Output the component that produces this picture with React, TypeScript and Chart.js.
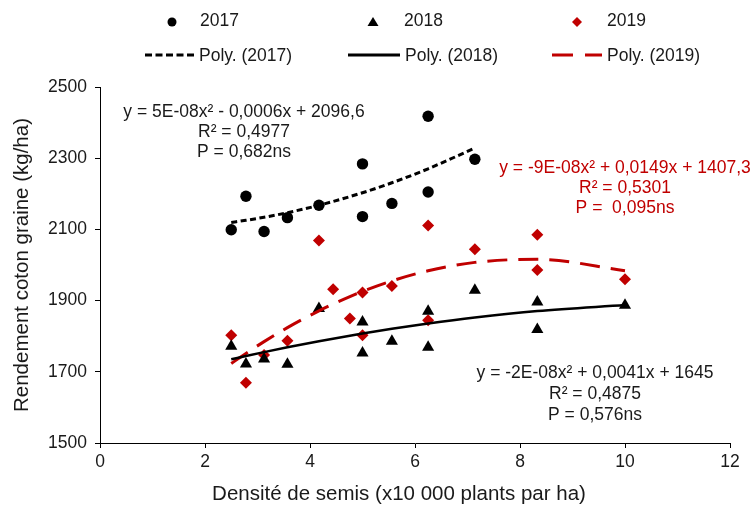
import { useEffect, useRef } from 'react';
import { Chart, registerables } from 'chart.js';

Chart.register(...registerables);

// Sowing density (x10 000 plants/ha) and seed-cotton yield (kg/ha) per season
const density2017 = [2.5, 2.78, 3.125, 3.57, 4.17, 5.0, 5.0, 5.56, 6.25, 6.25, 7.14];
const yield2017 = [2099, 2193, 2094, 2133, 2168, 2284, 2136, 2173, 2418, 2205, 2297];

const density2018 = [2.5, 2.78, 3.125, 3.57, 4.17, 5.0, 5.0, 5.56, 6.25, 6.25, 7.14, 8.33, 8.33, 10];
const yield2018 = [1772, 1722, 1736, 1721, 1878, 1840, 1753, 1786, 1870, 1769, 1929, 1896, 1819, 1887];

const density2019 = [2.5, 2.78, 3.125, 3.57, 4.17, 4.44, 4.76, 5.0, 5.0, 5.56, 6.25, 6.25, 7.14, 8.33, 8.33, 10];
const yield2019 = [1803, 1669, 1747, 1787, 2069, 1932, 1850, 1923, 1803, 1941, 2111, 1845, 2044, 2085, 1986, 1960];

const seriesLabels = ['2017', '2018', '2019'];
const trendLabels = ['Poly. (2017)', 'Poly. (2018)', 'Poly. (2019)'];

const equation2017 = ['y = 5E-08x² - 0,0006x + 2096,6', 'R² = 0,4977', 'P = 0,682ns'];
const equation2018 = ['y = -2E-08x² + 0,0041x + 1645', 'R² = 0,4875', 'P = 0,576ns'];
const equation2019 = ['y = -9E-08x² + 0,0149x + 1407,3', 'R² = 0,5301', 'P =  0,095ns'];

const xTitle = 'Densité de semis (x10 000 plants par ha)';
const yTitle = 'Rendement coton graine (kg/ha)';

const RED = '#C00000';
const INK = '#1a1a1a';
const FONT = '"Liberation Sans", Arial, sans-serif';

// Least-squares second-order polynomial (same as a spreadsheet "Poly." trendline)
function fitQuadratic(xs: number[], ys: number[]) {
  let n = xs.length, s1 = 0, s2 = 0, s3 = 0, s4 = 0, t0 = 0, t1 = 0, t2 = 0;
  for (let i = 0; i < n; i++) {
    const x = xs[i], y = ys[i];
    s1 += x; s2 += x * x; s3 += x * x * x; s4 += x * x * x * x;
    t0 += y; t1 += x * y; t2 += x * x * y;
  }
  const det = (m: number[][]) =>
    m[0][0] * (m[1][1] * m[2][2] - m[1][2] * m[2][1]) -
    m[0][1] * (m[1][0] * m[2][2] - m[1][2] * m[2][0]) +
    m[0][2] * (m[1][0] * m[2][1] - m[1][1] * m[2][0]);
  const M = [[n, s1, s2], [s1, s2, s3], [s2, s3, s4]];
  const D = det(M);
  const a = det([[t0, s1, s2], [t1, s2, s3], [t2, s3, s4]]) / D;
  const b = det([[n, t0, s2], [s1, t1, s3], [s2, t2, s4]]) / D;
  const c = det([[n, s1, t0], [s1, s2, t1], [s2, s3, t2]]) / D;
  return (x: number) => a + b * x + c * x * x;
}

function trendPoints(xs: number[], ys: number[]) {
  const f = fitQuadratic(xs, ys);
  const uniq = Array.from(new Set(xs)).sort((p, q) => p - q);
  return uniq.map((x) => ({ x, y: f(x) }));
}

const toPoints = (xs: number[], ys: number[]) => xs.map((x, i) => ({ x, y: ys[i] }));

function drawMarker(ctx: CanvasRenderingContext2D, kind: string, x: number, y: number, color: string) {
  ctx.save();
  ctx.fillStyle = color;
  ctx.beginPath();
  if (kind === 'circle') {
    ctx.arc(x, y, 4.5, 0, Math.PI * 2);
  } else if (kind === 'triangle') {
    ctx.moveTo(x, y - 5);
    ctx.lineTo(x + 5.5, y + 4);
    ctx.lineTo(x - 5.5, y + 4);
    ctx.closePath();
  } else {
    ctx.moveTo(x, y - 5);
    ctx.lineTo(x + 5, y);
    ctx.lineTo(x, y + 5);
    ctx.lineTo(x - 5, y);
    ctx.closePath();
  }
  ctx.fill();
  ctx.restore();
}

const overlayPlugin = {
  id: 'overlay',
  afterDraw(chart: Chart) {
    const ctx = chart.ctx;
    ctx.save();
    ctx.font = `17.5px ${FONT}`;
    ctx.textBaseline = 'middle';
    ctx.textAlign = 'left';

    // legend, first row: markers
    const markerRow = [
      { kind: 'circle', mx: 172, tx: 200, color: '#000' },
      { kind: 'triangle', mx: 373, tx: 404, color: '#000' },
      { kind: 'diamond', mx: 577, tx: 607, color: RED },
    ];
    markerRow.forEach((m, i) => {
      drawMarker(ctx, m.kind, m.mx, 22, m.color);
      ctx.fillStyle = INK;
      ctx.fillText(seriesLabels[i], m.tx, 21);
    });

    // legend, second row: trend line samples
    const lineRow = [
      { x0: 145, x1: 197, tx: 199, color: '#000', dash: [7, 3.5] },
      { x0: 348, x1: 400, tx: 405, color: '#000', dash: [] as number[] },
      { x0: 552, x1: 602, tx: 607, color: RED, dash: [21, 12] },
    ];
    lineRow.forEach((l, i) => {
      ctx.save();
      ctx.strokeStyle = l.color;
      ctx.lineWidth = 3;
      ctx.setLineDash(l.dash);
      ctx.beginPath();
      ctx.moveTo(l.x0, 55);
      ctx.lineTo(l.x1, 55);
      ctx.stroke();
      ctx.restore();
      ctx.fillStyle = INK;
      ctx.fillText(trendLabels[i], l.tx, 56);
    });

    // trendline equations
    ctx.textAlign = 'center';
    const blocks = [
      { lines: equation2017, cx: 244, ys: [112, 132, 152], color: INK },
      { lines: equation2019, cx: 625, ys: [168, 188, 208], color: RED },
      { lines: equation2018, cx: 595, ys: [373, 394, 415], color: INK },
    ];
    blocks.forEach((b) => {
      ctx.fillStyle = b.color;
      b.lines.forEach((t, i) => ctx.fillText(t, b.cx, b.ys[i]));
    });

    // horizontal axis title
    ctx.font = `20.5px ${FONT}`;
    ctx.fillStyle = INK;
    ctx.fillText(xTitle, 399, 494);
    ctx.restore();
  },
};

export default function App() {
  const canvasRef = useRef<HTMLCanvasElement | null>(null);

  useEffect(() => {
    document.body.style.margin = '0';
    const canvas = canvasRef.current;
    if (!canvas) return;

    const tickFont = { family: FONT, size: 17.5 };
    const titleFont = { family: FONT, size: 20.5 };

    const chart = new Chart(canvas, {
      type: 'scatter',
      data: {
        datasets: [
          {
            label: trendLabels[0],
            data: trendPoints(density2017, yield2017),
            showLine: true,
            borderColor: '#000',
            borderWidth: 3,
            borderDash: [6, 3.5],
            pointRadius: 0,
            cubicInterpolationMode: 'monotone',
          },
          {
            label: trendLabels[1],
            data: trendPoints(density2018, yield2018),
            showLine: true,
            borderColor: '#000',
            borderWidth: 2.5,
            pointRadius: 0,
            cubicInterpolationMode: 'monotone',
          },
          {
            label: trendLabels[2],
            data: trendPoints(density2019, yield2019),
            showLine: true,
            borderColor: RED,
            borderWidth: 3,
            borderDash: [20, 11],
            pointRadius: 0,
            cubicInterpolationMode: 'monotone',
          },
          {
            label: seriesLabels[0],
            data: toPoints(density2017, yield2017),
            pointStyle: 'circle',
            pointRadius: 5.7,
            backgroundColor: '#000',
            borderWidth: 0,
          },
          {
            label: seriesLabels[1],
            data: toPoints(density2018, yield2018),
            pointStyle: 'triangle',
            pointRadius: 7,
            backgroundColor: '#000',
            borderWidth: 0,
          },
          {
            label: seriesLabels[2],
            data: toPoints(density2019, yield2019),
            pointStyle: 'rectRot',
            pointRadius: 6,
            backgroundColor: RED,
            borderWidth: 0,
          },
        ],
      },
      options: {
        responsive: false,
        animation: false,
        devicePixelRatio: 1,
        layout: { padding: { top: 87, right: 24, left: 0, bottom: 0 } },
        plugins: {
          legend: { display: false },
          tooltip: { enabled: false },
        },
        scales: {
          x: {
            type: 'linear',
            min: 0,
            max: 12,
            ticks: { stepSize: 2, font: tickFont, color: INK, padding: 4, callback: (v: any) => String(v) },
            grid: { drawOnChartArea: false, drawTicks: true, tickLength: 5, color: '#000' },
            border: { display: true, color: '#000', width: 1 },
            title: { display: false },
            afterFit: (s: any) => { s.height = 65; },
          },
          y: {
            type: 'linear',
            min: 1500,
            max: 2500,
            ticks: { stepSize: 200, font: tickFont, color: INK, padding: 8, callback: (v: any) => String(v) },
            grid: { drawOnChartArea: false, drawTicks: true, tickLength: 5, color: '#000' },
            border: { display: true, color: '#000', width: 1 },
            title: { display: true, text: yTitle, font: titleFont, color: INK, padding: { top: 10, bottom: 0 } },
            afterFit: (s: any) => { s.width = 100; },
          },
        },
      },
      plugins: [overlayPlugin],
    });

    return () => chart.destroy();
  }, []);

  return (
    <div style={{ width: 754, height: 508 }}>
      <canvas ref={canvasRef} width={754} height={508} />
    </div>
  );
}
